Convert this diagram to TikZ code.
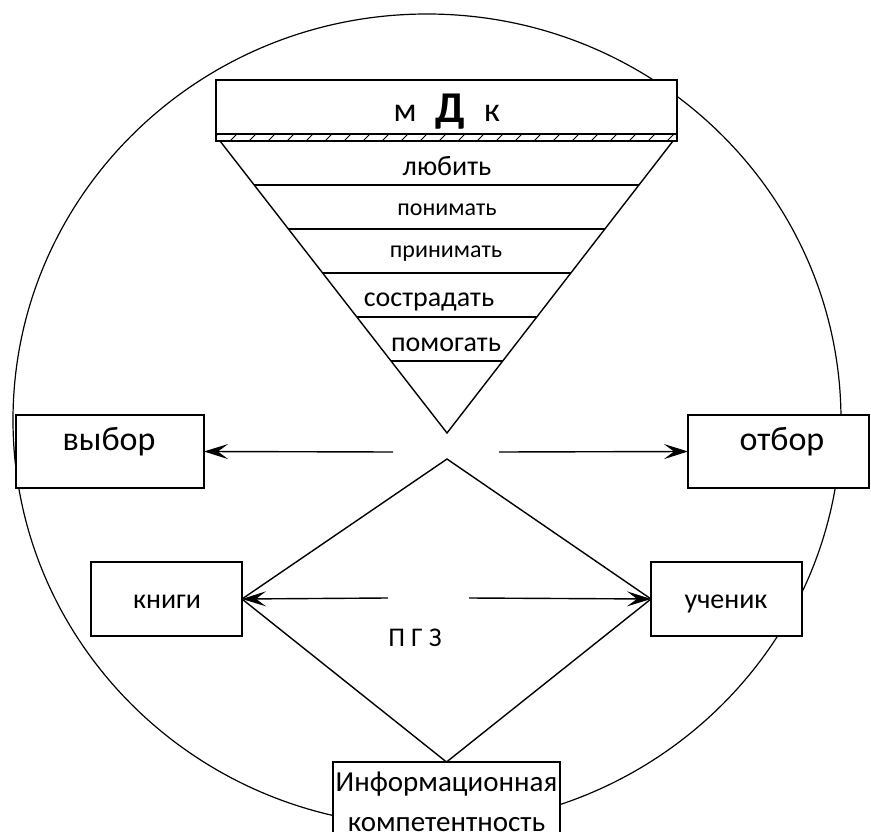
\documentclass[tikz,border=0pt]{standalone}
\usepackage{fontspec}
\setmainfont{Carlito}
\usetikzlibrary{arrows.meta,calc}
\begin{document}
\begin{tikzpicture}[x=1pt,y=-1pt,
  line width=1.4pt,
  boxs/.style={draw,fill=white,inner sep=0pt,outer sep=0pt},
  arr/.style={-{Stealth[length=24pt,width=15pt,inset=10pt]},line width=1.4pt},
  big/.style={font=\fontsize{34pt}{40pt}\selectfont,anchor=base,inner sep=0pt},
  mid/.style={font=\fontsize{28pt}{34pt}\selectfont,anchor=base,inner sep=0pt},
  sml/.style={font=\fontsize{24pt}{30pt}\selectfont,anchor=base,inner sep=0pt}]
\useasboundingbox (0,0) rectangle (871,832);
% big circle
\draw[line width=1.2pt] (427,420) ellipse [x radius=414pt, y radius=406pt];
% top box
\node[boxs,minimum width=461pt,minimum height=54pt] (mdk) at (446.5,107) {};
\node[big] (tm) at (405,122) {м};
\node[big,font=\fontsize{44pt}{50pt}\selectfont\bfseries] (td) at (450,123) {Д};
\node[big] (tk) at (492,122) {к};
% hatched band
\begin{scope}
  \clip (216,134) rectangle (677,141);
  \foreach \i in {0,...,25} \draw[line width=1pt] ({211+19*\i},141) -- ({218+19*\i},134);
\end{scope}
\draw (216,134) rectangle (677,141);
% triangle
\coordinate (tl) at (220,141);
\coordinate (tr) at (673,141);
\coordinate (apex) at (447,433);
\draw (tl) -- (tr) -- (apex) -- cycle;
\foreach \f in {0.8493,0.6986,0.5479,0.3973,0.2466}
  \draw ($(apex)!\f!(tl)$) -- ($(apex)!\f!(tr)$);
\node[mid] (l1) at (447,176) {любить};
\node[sml] (l2) at (447,215) {понимать};
\node[sml] (l3) at (446,258) {принимать};
\node[mid] (l4) at (429,306) {сострадать};
\node[mid] (l5) at (446,351) {помогать};
% side boxes
\node[boxs,minimum width=188pt,minimum height=73pt] (vybor) at (110,451.5) {};
\node[big] (vyborT) at (109,450) {выбор};
\node[boxs,minimum width=181pt,minimum height=73pt] (otbor) at (778.5,451.5) {};
\node[big] (otborT) at (782,450) {отбор};
\node[boxs,minimum width=151pt,minimum height=74pt] (knigi) at (166.5,599) {};
\node[mid] (knigiT) at (167,608) {книги};
\node[boxs,minimum width=151pt,minimum height=74pt] (uchenik) at (726.5,599) {};
\node[mid] (uchenikT) at (726,608) {ученик};
\node[boxs,minimum width=227pt,minimum height=98pt] (info) at (446.5,811) {};
\node[mid,font=\fontsize{29pt}{35pt}\selectfont] (infoT1) at (446.5,791) {Информационная};
\node[mid,font=\fontsize{29pt}{35pt}\selectfont] (infoT2) at (446.5,831) {компетентность};
% diamond
\coordinate (dtop) at (447,459);
\draw (dtop) -- (uchenik.west) -- (info.north) -- (knigi.east) -- cycle;
\node[sml,font=\fontsize{27pt}{32pt}\selectfont] (pgz) at (415,646) {П Г З};
% arrows
\coordinate (cL) at (393,452);
\coordinate (cR) at (499,452);
\coordinate (kL) at (388,598);
\coordinate (kR) at (469,598);
\draw[arr] (cL) -- (vybor.east);
\draw[arr] (cR) -- (otbor.west);
\draw[arr] (kL) -- (knigi.east);
\draw[arr] (kR) -- (uchenik.west);
\end{tikzpicture}
\end{document}
